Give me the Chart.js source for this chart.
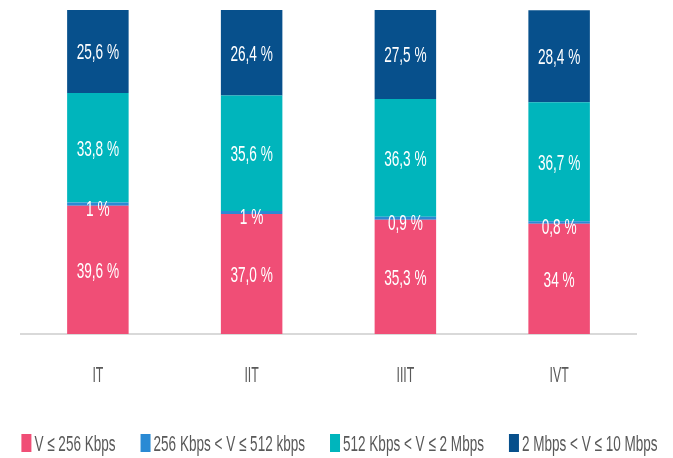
<!DOCTYPE html>
<html>
<head>
<meta charset="utf-8">
<script src="https://cdn.jsdelivr.net/npm/chart.js@4"></script>
<style>
html,body{margin:0;padding:0;background:#fff;}
#wrap{width:673px;height:458px;}
</style>
</head>
<body>
<div id="wrap"><canvas id="c" width="673" height="458"></canvas></div>
<script>
const categories = ["IT", "IIT", "IIIT", "IVT"];
const seriesNames = ["V ≤ 256 Kbps", "256 Kbps < V ≤ 512 kbps", "512 Kbps < V ≤ 2 Mbps", "2 Mbps < V ≤ 10 Mbps"];
const lowSpeed = [39.6, 37.0, 35.3, 34];
const midLowSpeed = [1, 1, 0.9, 0.8];
const midHighSpeed = [33.8, 35.6, 36.3, 36.7];
const highSpeed = [25.6, 26.4, 27.5, 28.4];
const valueLabels = [
  ["39,6 %", "37,0 %", "35,3 %", "34 %"],
  ["1 %", "1 %", "0,9 %", "0,8 %"],
  ["33,8 %", "35,6 %", "36,3 %", "36,7 %"],
  ["25,6 %", "26,4 %", "27,5 %", "28,4 %"]
];
const colors = ["#F04E76", "#2A8AD4", "#00B5BC", "#07508C"];
const FONT = "'Liberation Sans', Arial, sans-serif";

function narrowText(ctx, text, x, y, size, sx, align) {
  ctx.save();
  ctx.font = size + 'px ' + FONT;
  ctx.textBaseline = 'alphabetic';
  ctx.textAlign = 'left';
  const w = ctx.measureText(text).width * sx;
  let left = x;
  if (align === 'center') left = x - w / 2;
  ctx.translate(left, y);
  ctx.scale(sx, 1);
  ctx.fillText(text, 0, 0);
  ctx.restore();
  return w;
}
function textWidth(ctx, text, size, sx) {
  ctx.save();
  ctx.font = size + 'px ' + FONT;
  const w = ctx.measureText(text).width * sx;
  ctx.restore();
  return w;
}

const labelPlugin = {
  id: 'segLabels',
  afterDraw(chart) {
    const ctx = chart.ctx;
    ctx.save();
    // value labels
    ctx.fillStyle = '#ffffff';
    chart.data.datasets.forEach((ds, di) => {
      const meta = chart.getDatasetMeta(di);
      meta.data.forEach((bar, i) => {
        const p = bar.getProps(['x', 'y', 'base'], true);
        let cy = (p.y + p.base) / 2;
        if (di === 1) cy = cy + 4;
        narrowText(ctx, valueLabels[di][i], p.x, cy + 7.9, 22, 0.62, 'center');
      });
    });
    // category labels
    const xs = chart.scales.x;
    ctx.fillStyle = '#595959';
    categories.forEach((c, i) => {
      narrowText(ctx, c, xs.getPixelForTick(i), 382, 22, 0.56, 'center');
    });
    // legend
    const size = 22, sx = 0.615, boxW = 10, boxH = 18, gapBox = 3, gapItem = 25;
    let total = 0;
    const widths = seriesNames.map(n => textWidth(ctx, n, size, sx));
    widths.forEach((w, i) => { total += boxW + gapBox + w + (i < widths.length - 1 ? gapItem : 0); });
    let x = 339.5 - total / 2;
    seriesNames.forEach((n, i) => {
      ctx.fillStyle = colors[i];
      ctx.fillRect(x, 434, boxW, boxH);
      x += boxW + gapBox;
      ctx.fillStyle = '#595959';
      narrowText(ctx, n, x, 451, size, sx, 'left');
      x += widths[i] + gapItem;
    });
    ctx.restore();
  }
};

const dataSets = [lowSpeed, midLowSpeed, midHighSpeed, highSpeed].map((d, i) => ({
  label: seriesNames[i],
  data: d,
  backgroundColor: colors[i],
  borderWidth: 0,
  barPercentage: 0.8,
  categoryPercentage: 0.5
}));

new Chart(document.getElementById('c'), {
  type: 'bar',
  data: { labels: categories, datasets: dataSets },
  options: {
    responsive: false,
    animation: false,
    layout: { padding: { left: 21, right: 37, top: 10, bottom: 124 } },
    plugins: {
      tooltip: { enabled: false },
      legend: { display: false }
    },
    scales: {
      x: {
        stacked: true,
        grid: { display: false, drawTicks: false },
        border: { color: '#D9D9D9', width: 2 },
        ticks: { display: false }
      },
      y: {
        stacked: true,
        display: false,
        min: 0,
        max: 100
      }
    }
  },
  plugins: [labelPlugin]
});
</script>
</body>
</html>
